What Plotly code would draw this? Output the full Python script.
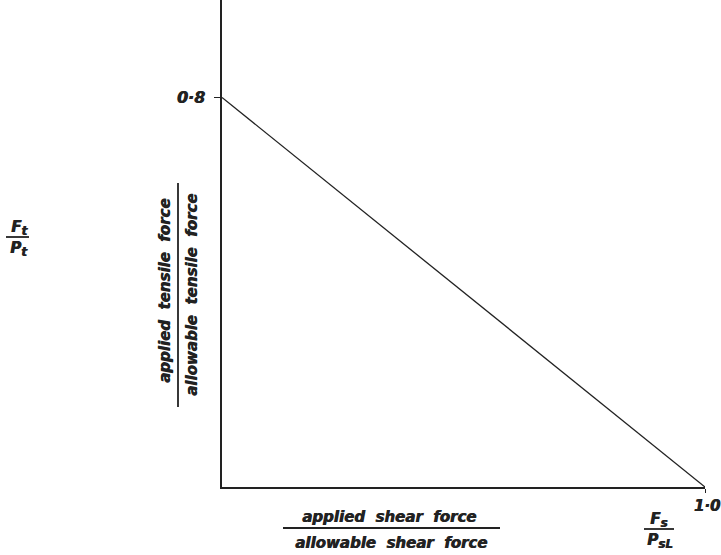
import plotly.graph_objects as go

# Interaction line between shear and tension ratios
shear_ratio = [0.0, 1.0]
tensile_ratio = [0.8, 0.0]

x_ticks = [1.0]
x_tick_text = ["1·0"]
y_ticks = [0.8]
y_tick_text = ["0·8"]

W, H = 721, 555
L, R, T, B = 222, 16, 0, 68
PW, PH = W - L - R, H - T - B

INK = "#222222"
FONT = "DejaVu Sans"
HEAVY = "0.7px 0 0 #222222"


def px(x):
    return (x - L) / PW


def py(y):
    return (H - B - y) / PH


def txt(size=15):
    return dict(family=FONT, size=size, color=INK,
                weight="bold", style="italic", shadow=HEAVY)


def sub(s, size=12):
    return f"<sub><span style='font-size:{size}px'>{s}</span></sub>"


fig = go.Figure()
fig.add_trace(go.Scatter(
    x=shear_ratio, y=tensile_ratio, mode="lines",
    line=dict(color=INK, width=1.3), hoverinfo="skip", showlegend=False,
))

annotations = []
shapes = []


def label(x, y, text, size=15, angle=0):
    annotations.append(dict(
        x=px(x), y=py(y), xref="paper", yref="paper", text=text,
        showarrow=False, textangle=angle, font=txt(size),
        xanchor="center", yanchor="middle",
    ))


def bar(x0, y0, x1, y1, w=1.8):
    shapes.append(dict(
        type="line", xref="paper", yref="paper",
        x0=px(x0), y0=py(y0), x1=px(x1), y1=py(y1),
        line=dict(color=INK, width=w),
    ))


# vertical axis description
label(165, 291, "applied  tensile  force", angle=-90)
bar(178, 183, 178, 407)
label(192, 295, "allowable  tensile  force", angle=-90)

# horizontal axis description
label(389, 517, "applied  shear  force")
bar(283, 528, 500, 528)
label(391, 543, "allowable  shear  force")

# symbolic ratios
label(19, 228, "F" + sub("t"), size=15)
bar(6, 237, 29, 237)
label(19, 249, "P" + sub("t"), size=15)

label(658, 520, "F" + sub("s"), size=15)
bar(644, 529, 674, 529)
label(660, 541, "P" + sub("sL"), size=15)

fig.update_layout(
    width=W, height=H,
    margin=dict(l=L, r=R, t=T, b=B),
    paper_bgcolor="white", plot_bgcolor="white",
    annotations=annotations, shapes=shapes,
    xaxis=dict(
        range=[0, 1.0], showgrid=False, zeroline=False,
        showline=True, linecolor=INK, linewidth=1.5,
        tickvals=x_ticks, ticktext=x_tick_text,
        ticks="outside", ticklen=4, tickcolor=INK, tickwidth=1.3,
        tickfont=txt(15), ticklabelshift=2, ticklabelstandoff=0,
        ticklabeloverflow="allow",
    ),
    yaxis=dict(
        range=[0, 1.0], showgrid=False, zeroline=False,
        showline=True, linecolor=INK, linewidth=1.5,
        tickvals=y_ticks, ticktext=y_tick_text,
        ticks="outside", ticklen=6, tickcolor=INK, tickwidth=1.3,
        tickfont=txt(16), ticklabelstandoff=6,
    ),
)

fig.write_html("out.html")
